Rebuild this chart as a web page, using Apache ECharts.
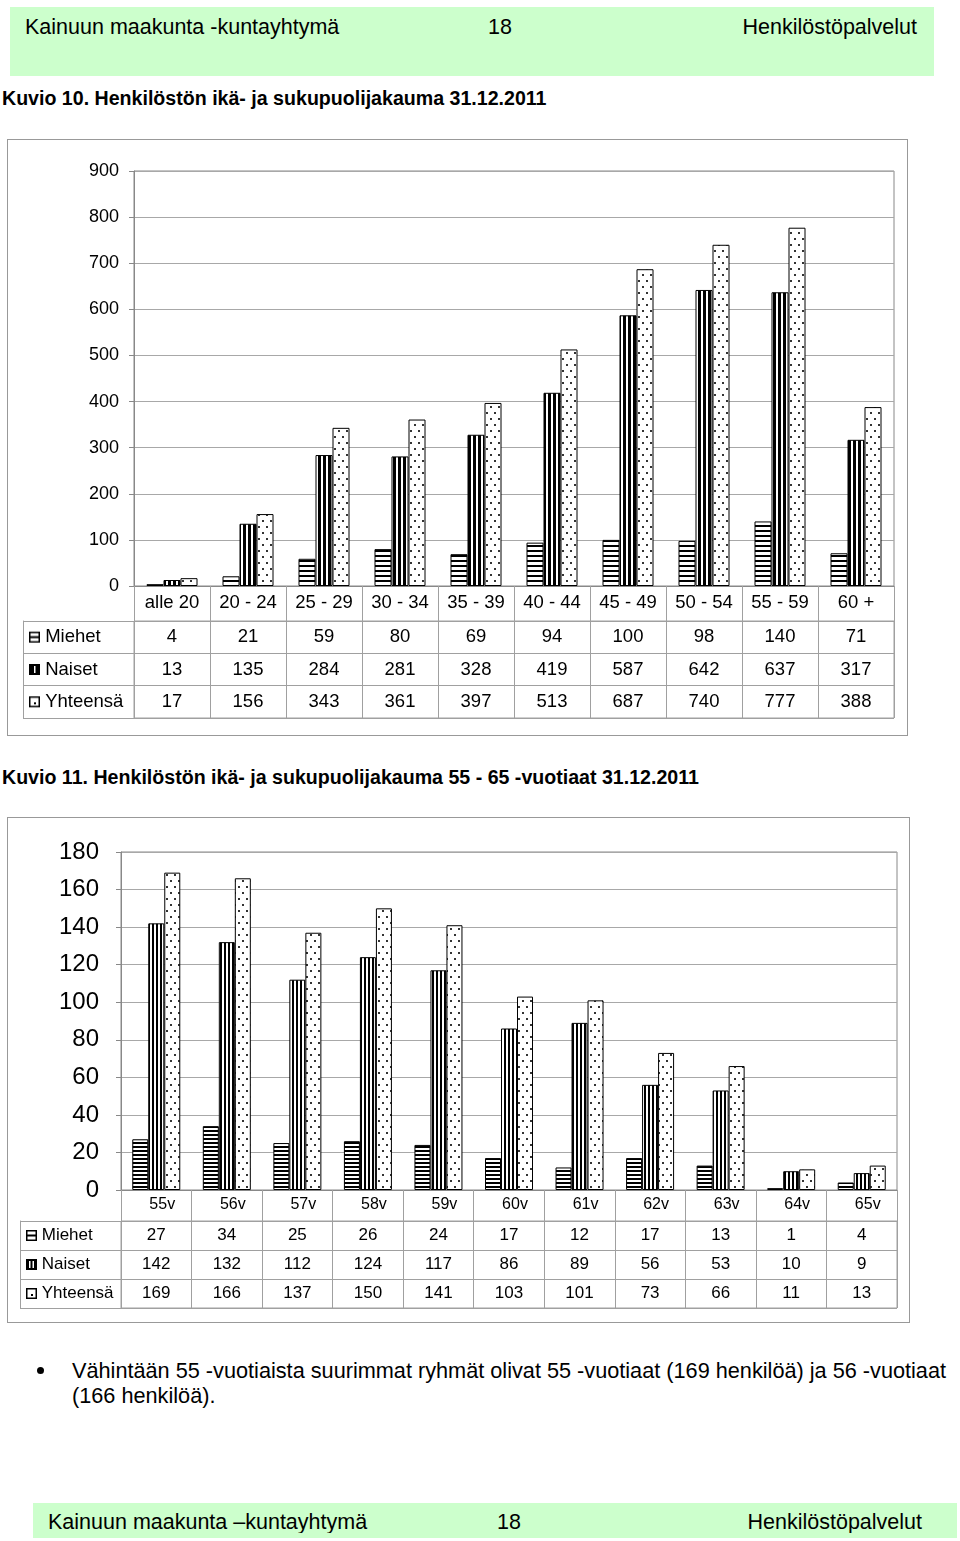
<!DOCTYPE html>
<html>
<head>
<meta charset="utf-8">
<script src="https://cdn.jsdelivr.net/npm/echarts@6/dist/echarts.min.js"></script>
<style>
  body { margin: 0; width: 960px; height: 1541px; position: relative; background: #fff;
         font-family: 'Liberation Sans', Arial, sans-serif; color: #000; overflow: hidden; }
  .band { position: absolute; background: #ccffcc; }
  .band span { position: absolute; font-size: 21.5px; line-height: 22px; white-space: nowrap; }
  .cap { position: absolute; left: 2px; font-weight: bold; font-size: 19.6px; line-height: 20px; white-space: nowrap; }
  .box { position: absolute; box-sizing: border-box; border: 1px solid #999; }
  .bullet { position: absolute; left: 72px; top: 1358px; font-size: 21.7px; line-height: 25px; white-space: nowrap; }
  .dot { position: absolute; left: 37px; top: 1367px; width: 7px; height: 7px; border-radius: 50%; background: #000; }
</style>
</head>
<body>
<div class="band" style="left:10px;top:7px;width:924px;height:69px">
  <span style="left:15px;top:9px">Kainuun maakunta -kuntayhtymä</span>
  <span style="left:478px;top:9px">18</span>
  <span style="right:17px;top:9px">Henkilöstöpalvelut</span>
</div>
<div class="cap" style="top:88px">Kuvio 10. Henkilöstön ikä- ja sukupuolijakauma 31.12.2011</div>
<div id="chart1" class="box" style="left:7px;top:139px;width:901px;height:597px"></div>
<div class="cap" style="top:767px">Kuvio 11. Henkilöstön ikä- ja sukupuolijakauma 55 - 65 -vuotiaat 31.12.2011</div>
<div id="chart2" class="box" style="left:7px;top:817px;width:903px;height:506px"></div>
<div class="dot"></div>
<div class="bullet">Vähintään 55 -vuotiaista suurimmat ryhmät olivat 55 -vuotiaat (169 henkilöä) ja 56 -vuotiaat<br>(166 henkilöä).</div>
<div class="band" style="left:33px;top:1503px;width:924px;height:35px">
  <div style="position:absolute;left:0;top:0;width:924px;height:30px;overflow:hidden">
    <span style="left:15px;top:8px">Kainuun maakunta –kuntayhtymä</span>
    <span style="left:464px;top:8px">18</span>
    <span style="right:35px;top:8px">Henkilöstöpalvelut</span>
  </div>
</div>
<script>
const fontFamily = "'Liberation Sans', Arial, sans-serif"
const rowNames = ['Miehet', 'Naiset', 'Yhteensä']

// Kuvio 10
const ageGroups = ['alle 20', '20 - 24', '25 - 29', '30 - 34', '35 - 39', '40 - 44', '45 - 49', '50 - 54', '55 - 59', '60 +']
const men1 = [4, 21, 59, 80, 69, 94, 100, 98, 140, 71]
const women1 = [13, 135, 284, 281, 328, 419, 587, 642, 637, 317]
const total1 = [17, 156, 343, 361, 397, 513, 687, 740, 777, 388]

// Kuvio 11
const ages = ['55v', '56v', '57v', '58v', '59v', '60v', '61v', '62v', '63v', '64v', '65v']
const men2 = [27, 34, 25, 26, 24, 17, 12, 17, 13, 1, 4]
const women2 = [142, 132, 112, 124, 117, 86, 89, 56, 53, 10, 9]
const total2 = [169, 166, 137, 150, 141, 103, 101, 73, 66, 11, 13]

function makeCanvas(w, h, draw) {
  const c = document.createElement('canvas')
  c.width = w
  c.height = h
  const g = c.getContext('2d')
  g.fillStyle = '#fff'
  g.fillRect(0, 0, w, h)
  draw(g)
  return c
}

const hStripes = (p) => makeCanvas(p, p, (g) => { g.fillStyle = '#000'; g.fillRect(0, 0, p, 2) })
const vStripes = (p, w) => makeCanvas(p, p, (g) => { g.fillStyle = '#000'; g.fillRect(0, 0, w, p) })
const dotted = makeCanvas(8, 12, (g) => { g.fillStyle = '#333'; g.fillRect(2, 2, 2, 2); g.fillRect(6, 8, 2, 2) })

function framedIcon(inner) {
  return makeCanvas(11, 11, (g) => {
    inner(g)
    g.strokeStyle = '#000'
    g.lineWidth = 1.5
    g.strokeRect(0.75, 0.75, 9.5, 9.5)
  })
}
const iconMen = framedIcon((g) => { g.fillStyle = '#000'; g.fillRect(0, 4.5, 11, 2) })
const iconWomen1 = framedIcon((g) => { g.fillStyle = '#000'; g.fillRect(0, 0, 11, 11); g.fillStyle = '#fff'; g.fillRect(5, 2, 1.5, 7) })
const iconWomen2 = framedIcon((g) => { g.fillStyle = '#000'; g.fillRect(0, 0, 11, 11); g.fillStyle = '#fff'; g.fillRect(3, 2, 1.5, 7); g.fillRect(6.5, 2, 1.5, 7) })
const iconTotal = framedIcon((g) => { g.fillStyle = '#000'; g.fillRect(5, 6, 2, 2) })

function buildOption(cfg) {
  const { cats, rows, L, T, W, H, labelRow, tableH, colW, max, step, fs, yfs, catFs, yMargin, catMargin, catPad, barWidth, fills, icons } = cfg
  const cells = []
  rows.forEach((arr, r) => arr.forEach((v, i) => cells.push([i, r, v])))
  const rich = { t: { fontSize: fs, fontFamily, color: '#000', verticalAlign: 'middle' } }
  icons.forEach((img, i) => { rich['i' + i] = { width: 11, height: 11, backgroundColor: { image: img }, verticalAlign: 'middle' } })
  const tableTop = T + H + labelRow
  return {
    animation: false,
    textStyle: { fontFamily },
    grid: [
      { left: L, top: T, width: W, height: H, show: true, borderColor: '#888', borderWidth: 1 },
      { left: L, top: tableTop, width: W, height: tableH, show: true, borderColor: '#a0a0a0', borderWidth: 1 },
    ],
    xAxis: [
      {
        gridIndex: 0, type: 'category', data: cats,
        axisLine: { lineStyle: { color: '#888' } },
        axisTick: { show: true, interval: 0, length: labelRow, lineStyle: { color: '#a0a0a0' } },
        axisLabel: { interval: 0, fontSize: catFs, color: '#000', margin: catMargin, padding: catPad },
      },
      {
        gridIndex: 1, type: 'category', data: cats,
        axisLine: { show: false }, axisTick: { show: false }, axisLabel: { show: false },
        splitLine: { show: true, interval: 0, lineStyle: { color: '#a0a0a0' } },
      },
    ],
    yAxis: [
      {
        gridIndex: 0, type: 'value', min: 0, max, interval: step,
        axisLine: { show: true, lineStyle: { color: '#888' } },
        axisTick: { show: true, length: 5, lineStyle: { color: '#888' } },
        axisLabel: { fontSize: yfs, color: '#000', margin: yMargin },
        splitLine: { lineStyle: { color: '#a8a8a8' } },
      },
      {
        gridIndex: 1, type: 'category', data: rowNames, inverse: true,
        axisLine: { show: true, lineStyle: { color: '#a0a0a0' } },
        axisTick: { show: true, interval: 0, length: colW, lineStyle: { color: '#a0a0a0' } },
        axisLabel: {
          interval: 0, align: 'left', margin: colW - 6,
          formatter: (v, i) => `{i${i}|}{t| ${v}}`, rich,
        },
        splitLine: { show: true, interval: 0, lineStyle: { color: '#a0a0a0' } },
      },
      {
        gridIndex: 1, type: 'category', data: rowNames, inverse: true, position: 'right', offset: -(W + colW),
        axisLine: { show: true, lineStyle: { color: '#a0a0a0' } }, axisTick: { show: false }, axisLabel: { show: false },
      },
    ],
    series: [
      ...rowNames.map((name, k) => ({
        name, type: 'bar', xAxisIndex: 0, yAxisIndex: 0, data: rows[k],
        barWidth, barGap: '0%',
        itemStyle: { color: { image: fills[k], repeat: 'repeat' }, borderColor: '#000', borderWidth: 1 },
      })),
      {
        type: 'custom', xAxisIndex: 1, yAxisIndex: 1, data: cells, encode: { x: 0, y: 1 },
        renderItem: (params, api) => {
          const p = api.coord([api.value(0), api.value(1)])
          return {
            type: 'text',
            style: {
              text: String(api.value(2)), x: p[0], y: p[1],
              align: 'center', verticalAlign: 'middle', textAlign: 'center', textVerticalAlign: 'middle',
              font: `${fs}px ${fontFamily}`, fill: '#000',
            },
          }
        },
      },
    ],
  }
}

const chart1 = echarts.init(document.getElementById('chart1'), null, { renderer: 'canvas' })
chart1.setOption(buildOption({
  cats: ageGroups, rows: [men1, women1, total1],
  L: 126, T: 31, W: 760, H: 415, labelRow: 35, tableH: 97, colW: 111,
  max: 900, step: 100, fs: 18.5, yfs: 18, catFs: 18.5, yMargin: 15, catMargin: 7, catPad: 0,
  barWidth: 17, fills: [hStripes(5), vStripes(5, 3), dotted], icons: [iconMen, iconWomen1, iconTotal],
}))

const chart2 = echarts.init(document.getElementById('chart2'), null, { renderer: 'canvas' })
chart2.setOption(buildOption({
  cats: ages, rows: [men2, women2, total2],
  L: 113, T: 34, W: 776, H: 338, labelRow: 31, tableH: 87, colW: 101,
  max: 180, step: 20, fs: 17, yfs: 24, catFs: 16, yMargin: 22, catMargin: 7, catPad: [0, 0, 0, 12],
  barWidth: 16, fills: [hStripes(4), vStripes(4, 2), dotted], icons: [iconMen, iconWomen2, iconTotal],
}))
</script>
</body>
</html>
